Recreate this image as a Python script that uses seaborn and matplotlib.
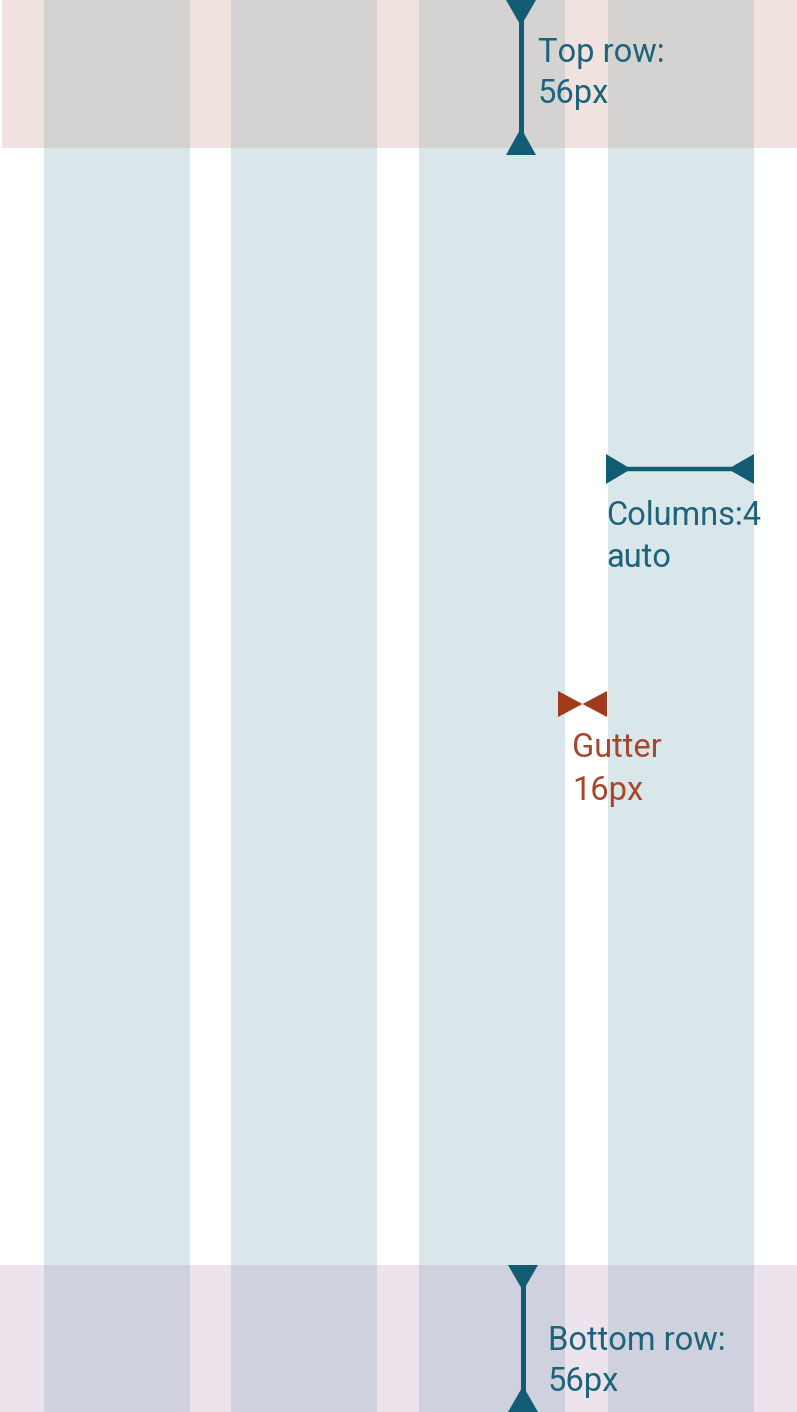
import matplotlib
matplotlib.use("Agg")
import matplotlib.pyplot as plt
import seaborn as sns

sns.set_theme(style="white")
plt.rcParams['font.family'] = ['Roboto', 'DejaVu Sans']

# canvas, in px
W, H = 797, 1412

# grid columns (left edge, width)
col_left = [44, 231, 419, 608]
col_width = [146, 146, 146, 146]

# top / bottom rows (y start, y end)
top_row = [0, 148]
bottom_row = [1265, 1412]

# labels
top_label = ["Top row:", "56px"]
bottom_label = ["Bottom row:", "56px"]
col_label = ["Columns:4", "auto"]
gutter_label = ["Gutter", "16px"]

#colours
c_col = "#dae7ea"
c_top = "#f0e3df"
c_top_col = "#d4d3d2"
c_bot = "#ede3ec"
c_bot_col = "#d0d1de"
teal = "#125c73"
teal_txt = "#1d6379"
red = "#a23b1e"
red_txt = "#a6472d"
fs = 23.5

fig = plt.figure(figsize=(W / 100, H / 100), dpi=100)
ax = fig.add_axes([0, 0, 1, 1])
ax.set_xlim(0, W)
ax.set_ylim(H, 0)
ax.axis("off")

# columns, full height
ax.bar(col_left, H, width=col_width, bottom=0, align="edge", color=c_col, linewidth=0, zorder=1)

# top and bottom row bands
ax.axhspan(top_row[0], top_row[1], xmin=2 / W, color=c_top, linewidth=0, zorder=2)
ax.axhspan(bottom_row[0], bottom_row[1], color=c_bot, linewidth=0, zorder=2)
ax.bar(col_left, top_row[1] - top_row[0], width=col_width, bottom=top_row[0],
       align="edge", color=c_top_col, linewidth=0, zorder=3)
ax.bar(col_left, bottom_row[1] - bottom_row[0], width=col_width, bottom=bottom_row[0],
       align="edge", color=c_bot_col, linewidth=0, zorder=3)


def head(x, y, dx, dy, half, color):
    # triangle with base centred on (x, y) and tip at (x+dx, y+dy)
    if dx == 0:
        xs = [x - half, x + half, x]
        ys = [y, y, y + dy]
    else:
        xs = [x, x, x + dx]
        ys = [y - half, y + half, y]
    ax.fill(xs, ys, color=color, linewidth=0, zorder=5)


# top row measure
ax_x = 521
ax.plot([ax_x, ax_x], [top_row[0] + 5, top_row[1]], color=teal, lw=3.6,
        solid_capstyle="butt", zorder=4)
head(ax_x, top_row[0], 0, 26, 15, teal)
head(ax_x, top_row[1] + 7, 0, -27, 15, teal)
ax.text(538, 62, top_label[0], color=teal_txt, fontsize=fs, va="baseline", zorder=6)
ax.text(538, 103, top_label[1], color=teal_txt, fontsize=fs, va="baseline", zorder=6)

# bottom row measure
bx = 523
ax.plot([bx, bx], [bottom_row[0] + 5, bottom_row[1] - 5], color=teal, lw=3.6,
        solid_capstyle="butt", zorder=4)
head(bx, bottom_row[0], 0, 26, 15, teal)
head(bx, bottom_row[1], 0, -26, 15, teal)
ax.text(548, 1350, bottom_label[0], color=teal_txt, fontsize=fs, va="baseline", zorder=6)
ax.text(548, 1391, bottom_label[1], color=teal_txt, fontsize=fs, va="baseline", zorder=6)

# column width measure
cl = col_left[-1] - 2
cr = col_left[-1] + col_width[-1]
cy = 469
ax.plot([cl + 5, cr - 5], [cy, cy], color=teal, lw=3.2, solid_capstyle="butt", zorder=4)
head(cl, cy, 25, 0, 15, teal)
head(cr, cy, -26, 0, 15, teal)
ax.text(606, 525, col_label[0], color=teal_txt, fontsize=fs, va="baseline", zorder=6)
ax.text(606, 567, col_label[1], color=teal_txt, fontsize=fs, va="baseline", zorder=6)

# gutter bowtie
gl = col_left[2] + col_width[2] - 7
gr = col_left[3] - 1
gy = 704
head(gl, gy, (gr - gl) / 2, 0, 13, red)
head(gr, gy, -(gr - gl) / 2, 0, 13, red)
ax.text(572, 757, gutter_label[0], color=red_txt, fontsize=fs, va="baseline", zorder=6)
ax.text(572, 800, gutter_label[1], color=red_txt, fontsize=fs, va="baseline", zorder=6)

fig.savefig("out.png", dpi=100)
